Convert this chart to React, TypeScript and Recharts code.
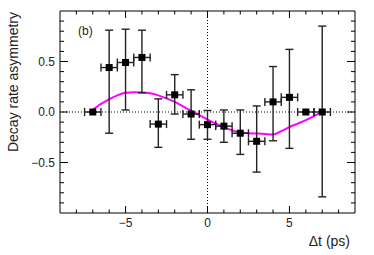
import React from "react";
import {
  ComposedChart,
  Scatter,
  Line,
  XAxis,
  YAxis,
  ErrorBar,
  ReferenceLine,
} from "recharts";

// binned asymmetry measurements
const dtBins = [-7, -6, -5, -4, -3, -2, -1, 0, 1, 2, 3, 4, 5, 6, 7];
const asym = [0.0, 0.44, 0.49, 0.54, -0.12, 0.17, -0.02, -0.125, -0.14, -0.21, -0.29, 0.1, 0.145, 0.0, 0.0];
const errUp = [0, 0.37, 0.33, 0.27, 0.25, 0.2, 0.24, 0.14, 0.16, 0.23, 0.35, 0.35, 0.475, 0, 0.85];
const errDown = [0, 0.65, 0.47, 0.35, 0.23, 0.19, 0.25, 0.145, 0.16, 0.21, 0.305, 0.385, 0.505, 0, 0.84];
const binHalf = [0.5, 0.5, 0.5, 0.5, 0.5, 0.5, 0.5, 0.5, 0.5, 0.5, 0.5, 0.5, 0.5, 0.5, 0.5];

// fit curve
const fitX = [-7, -6.5, -6, -5.5, -5, -4.5, -4, -3.5, -3, -2.5, -2, -1.5, -1, -0.5, 0, 0.5, 1, 1.5, 2, 2.5, 3, 3.5, 4, 4.5, 5, 5.5, 6, 6.5, 7];
const fitY = [0.02, 0.08, 0.125, 0.165, 0.19, 0.195, 0.193, 0.185, 0.165, 0.135, 0.1, 0.055, 0.012, -0.032, -0.075, -0.115, -0.15, -0.182, -0.203, -0.21, -0.213, -0.217, -0.224, -0.19, -0.15, -0.115, -0.08, -0.04, 0.005];

const xTicks = [-8, -7, -6, -5, -4, -3, -2, -1, 0, 1, 2, 3, 4, 5, 6, 7, 8];
const xMajor = [-5, 0, 5];
const xLabels = ["\u22125", "0", "5"];
const yTicks = [-0.9, -0.8, -0.7, -0.6, -0.5, -0.4, -0.3, -0.2, -0.1, 0, 0.1, 0.2, 0.3, 0.4, 0.5, 0.6, 0.7, 0.8, 0.9];
const yMajor = [-0.5, 0, 0.5];
const yLabels = ["\u22120.5", "0.0", "0.5"];

const points = dtBins.map((x, i) => ({
  x,
  y: asym[i],
  ey: [errDown[i], errUp[i]],
  ex: binHalf[i],
}));
const fit = fitX.map((x, i) => ({ x, y: fitY[i] }));

const FONT = "'Liberation Sans', Arial, sans-serif";

const majorIdx = (arr: number[], v: number) => arr.findIndex((m) => Math.abs(m - v) < 1e-6);

function BottomTick(props: any) {
  const { x, y, payload } = props;
  const k = majorIdx(xMajor, payload.value);
  return (
    <g>
      <line x1={x} y1={y} x2={x} y2={y - (k >= 0 ? 7 : 3.5)} stroke="#000" />
      {k >= 0 && (
        <text x={x} y={y + 14} textAnchor="middle" fontSize={12} fontFamily={FONT} fill="#222">
          {xLabels[k]}
        </text>
      )}
    </g>
  );
}

function TopTick(props: any) {
  const { x, y, payload } = props;
  const k = majorIdx(xMajor, payload.value);
  return <line x1={x} y1={y} x2={x} y2={y + (k >= 0 ? 7 : 3.5)} stroke="#000" />;
}

function LeftTick(props: any) {
  const { x, y, payload } = props;
  const k = majorIdx(yMajor, payload.value);
  return (
    <g>
      <line x1={x} y1={y} x2={x + (k >= 0 ? 8 : 4)} y2={y} stroke="#000" />
      {k >= 0 && (
        <text x={x - 5} y={y + 4} textAnchor="end" fontSize={12} fontFamily={FONT} fill="#222">
          {yLabels[k]}
        </text>
      )}
    </g>
  );
}

function RightTick(props: any) {
  const { x, y, payload } = props;
  const k = majorIdx(yMajor, payload.value);
  return <line x1={x} y1={y} x2={x - (k >= 0 ? 8 : 4)} y2={y} stroke="#000" />;
}

function SquareDot(props: any) {
  const { cx, cy } = props;
  return <rect x={cx - 3.5} y={cy - 3.5} width={7} height={7} fill="#000" />;
}

export default function App() {
  return (
    <div style={{ position: "absolute", left: 0, top: 0, width: 374, height: 255, background: "#fff" }}>
      <ComposedChart width={374} height={255} margin={{ top: 10, right: 18, bottom: 0, left: 8 }}>
        <XAxis
          xAxisId="b"
          type="number"
          dataKey="x"
          domain={[-9, 9]}
          ticks={xTicks}
          interval={0}
          orientation="bottom"
          height={42}
          tickSize={0}
          tickMargin={0}
          tick={<BottomTick />}
          axisLine={{ stroke: "#000" }}
          allowDataOverflow
        />
        <XAxis
          xAxisId="t"
          type="number"
          dataKey="x"
          domain={[-9, 9]}
          ticks={xTicks}
          interval={0}
          orientation="top"
          height={1}
          tickSize={0}
          tickMargin={0}
          tick={<TopTick />}
          axisLine={{ stroke: "#000" }}
          allowDataOverflow
        />
        <YAxis
          yAxisId="l"
          type="number"
          domain={[-1, 1]}
          ticks={yTicks}
          interval={0}
          width={52}
          tickSize={0}
          tickMargin={0}
          tick={<LeftTick />}
          axisLine={{ stroke: "#000" }}
          allowDataOverflow
        />
        <YAxis
          yAxisId="r"
          orientation="right"
          type="number"
          domain={[-1, 1]}
          ticks={yTicks}
          interval={0}
          width={1}
          tickSize={0}
          tickMargin={0}
          tick={<RightTick />}
          axisLine={{ stroke: "#000" }}
          allowDataOverflow
        />
        <ReferenceLine xAxisId="b" yAxisId="l" y={0} stroke="#000" strokeDasharray="1 2" />
        <ReferenceLine xAxisId="b" yAxisId="l" x={0} stroke="#000" strokeDasharray="1 2" />
        <Line
          xAxisId="b"
          yAxisId="l"
          data={fit}
          dataKey="y"
          type="monotone"
          stroke="#ff00ff"
          strokeWidth={2}
          dot={false}
          isAnimationActive={false}
        />
        <Scatter
          xAxisId="b"
          yAxisId="l"
          data={points}
          dataKey="y"
          shape={<SquareDot />}
          isAnimationActive={false}
        >
          <ErrorBar dataKey="ey" direction="y" width={4} stroke="#222" strokeWidth={1.4} />
          <ErrorBar dataKey="ex" direction="x" width={4} stroke="#222" strokeWidth={1.4} />
        </Scatter>
        <text x={78} y={35} fontSize={12} fontFamily={FONT} fill="#222">
          (b)
        </text>
        <text
          x={18}
          y={12}
          transform="rotate(-90 18 12)"
          textAnchor="end"
          fontSize={14}
          fontFamily={FONT}
          fill="#222"
        >
          Decay rate asymmetry
        </text>
        <text x={350} y={246} textAnchor="end" fontSize={14} fontFamily={FONT} fill="#222">
          Δt (ps)
        </text>
      </ComposedChart>
    </div>
  );
}
